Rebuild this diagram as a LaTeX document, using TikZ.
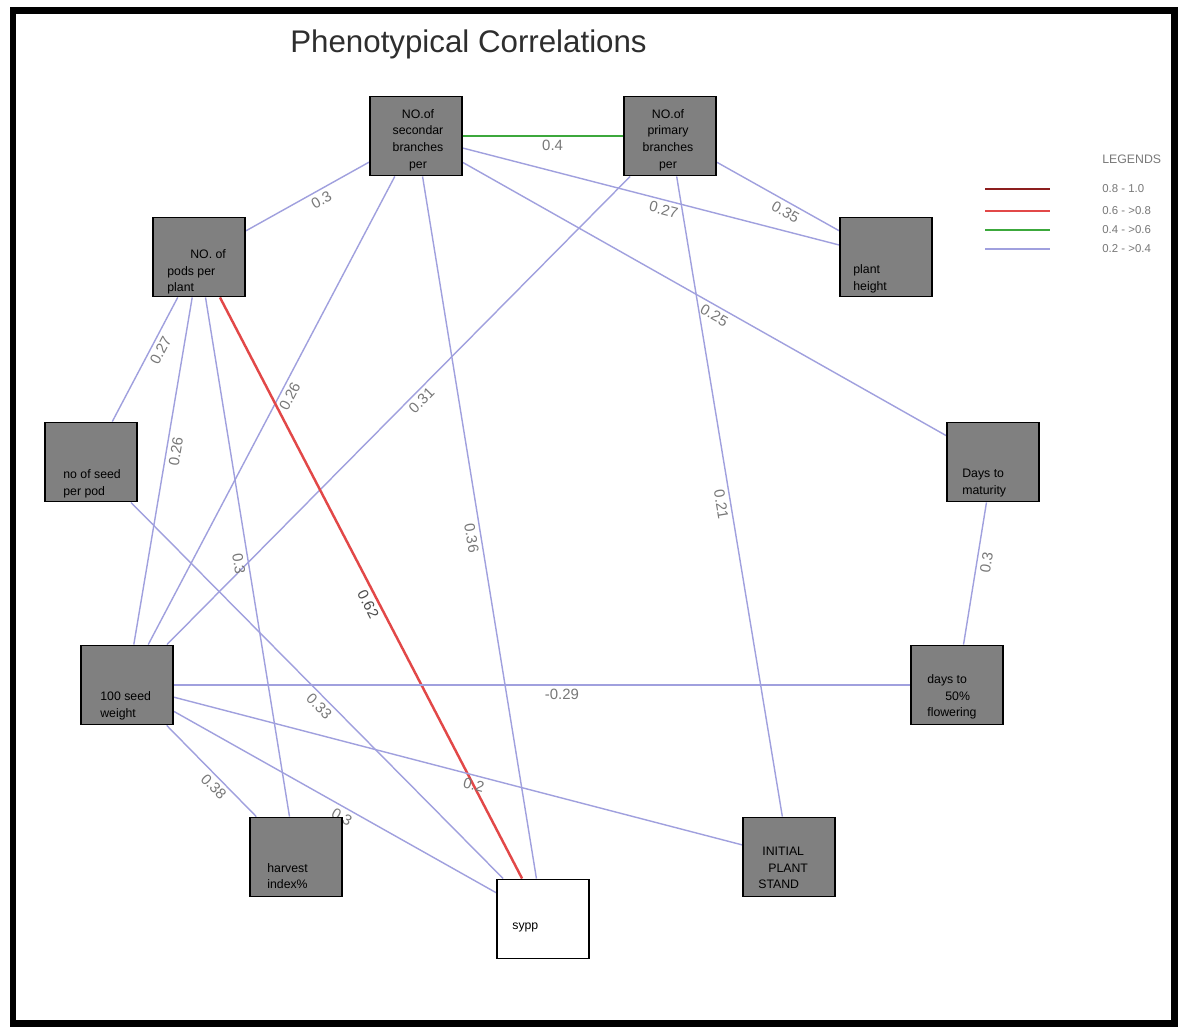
\documentclass[tikz,border=0pt]{standalone}
\usepackage{fontspec}
\setmainfont{Liberation Sans}
\usetikzlibrary{backgrounds}
\definecolor{linkblue}{RGB}{160,160,222}
\definecolor{linkred}{RGB}{226,72,72}
\definecolor{linkgreen}{RGB}{60,168,60}
\definecolor{darkred}{RGB}{140,30,30}
\definecolor{boxgray}{RGB}{128,128,128}
\definecolor{lblgray}{RGB}{120,120,120}
\tikzset{
  trait/.style={draw=black,line width=1.1pt,fill=boxgray,minimum width=1.84cm,minimum height=1.58cm,inner sep=0pt},
  traittxt/.style={font=\fontsize{7}{9.5}\selectfont,inner sep=0pt,align=left,anchor=west},
  weak/.style={draw=linkblue,line width=0.8pt},
  good/.style={draw=linkgreen,line width=0.9pt},
  strong/.style={draw=linkred,line width=1.4pt},
  lbl/.style={font=\fontsize{8.5}{10}\selectfont,text=lblgray,sloped,below=1pt,inner sep=1pt}
}
\begin{document}
\begin{tikzpicture}[x=0.02cm,y=-0.02cm]
\useasboundingbox (0,0) rectangle (1178,1028);
\draw[line width=0.14cm] (13,10) rectangle (1174,1023);
\node[anchor=base west,font=\fontsize{17.8}{20}\selectfont,text=black!82,inner sep=0pt](title) at (290,52){Phenotypical Correlations};

\node[trait](sec) at (416,136){};
\node[trait](prim) at (670,136){};
\node[trait](pods) at (199,257){};
\node[trait](height) at (886,257){};
\node[trait](seedpod) at (91,462){};
\node[trait](maturity) at (993,462){};
\node[trait](sw100) at (127,685){};
\node[trait](flower) at (957,685){};
\node[trait](harvest) at (296,857){};
\node[trait](ips) at (789,857){};
\node[trait,fill=white](sypp) at (543,919){};

\node[traittxt,align=center,anchor=center](secT) at (418,140){NO.of\\secondar\\branches\\per};
\node[traittxt,align=center,anchor=center](primT) at (668,140){NO.of\\primary\\branches\\per};
\node[traittxt](podsT) at (167,272){\hspace*{0.46cm}NO. of\\pods per\\plant};
\node[traittxt](heightT) at (853,279){plant\\height};
\node[traittxt](seedpodT) at (63,484){no of seed\\per pod};
\node[traittxt](maturityT) at (962,483){Days to\\maturity};
\node[traittxt](sw100T) at (100,706){100 seed\\weight};
\node[traittxt](flowerT) at (927,697){days to\\\hspace*{0.36cm}50\%\\flowering};
\node[traittxt](harvestT) at (267,876){harvest\\index\%};
\node[traittxt](ipsT) at (758,868){\hspace*{0.08cm}INITIAL\\\hspace*{0.2cm}PLANT\\STAND};
\node[traittxt](syppT) at (512,927){sypp};

\begin{scope}[on background layer]
\fill[white] (0,0) rectangle (1178,1028);
\draw[good] (sec) -- node[lbl,pos=0.56]{0.4} (prim);
\draw[weak] (pods) -- node[lbl,pos=0.575]{0.3} (sec);
\draw[weak] (sec) -- node[lbl,pos=0.54]{0.27} (height);
\draw[weak] (prim) -- node[lbl,pos=0.6]{0.35} (height);
\draw[weak] (sec) -- node[lbl,pos=0.53]{0.25} (maturity);
\draw[weak] (prim) -- node[lbl,pos=0.51]{0.21} (ips);
\draw[weak] (sw100) -- node[lbl,pos=0.535]{0.31} (prim);
\draw[weak] (sw100) -- node[lbl,pos=0.54]{0.26} (sec);
\draw[weak] (sec) -- node[lbl,pos=0.513]{0.36} (sypp);
\draw[weak] (seedpod) -- node[lbl,pos=0.61]{0.27} (pods);
\draw[weak] (sw100) -- node[lbl,pos=0.56]{0.26} (pods);
\draw[weak] (pods) -- node[lbl,pos=0.51]{0.3} (harvest);
\draw[strong] (pods) -- node[lbl,pos=0.52,text=black!70]{0.62} (sypp);
\draw[weak] (seedpod) -- node[lbl,pos=0.524]{0.33} (sypp);
\draw[weak] (sw100) -- node[lbl,pos=0.527]{-0.29} (flower);
\draw[weak] (sw100) -- node[lbl,pos=0.532]{0.2} (ips);
\draw[weak] (sw100) -- node[lbl,pos=0.6]{0.38} (harvest);
\draw[weak] (sw100) -- node[lbl,pos=0.536]{0.3} (sypp);
\draw[weak] (flower) -- node[lbl,pos=0.59]{0.3} (maturity);
\end{scope}

\node[anchor=west,font=\fontsize{7}{8}\selectfont,text=lblgray,inner sep=0pt](legend) at (1102,159){LEGENDS};
\foreach \y/\c/\w/\t [count=\i] in {189/darkred/0.9pt/{0.8 - 1.0},211/linkred/0.9pt/{0.6 - >0.8},230/linkgreen/0.9pt/{0.4 - >0.6},249/linkblue/0.7pt/{0.2 - >0.4}}{
  \draw[\c,line width=\w] (985,\y) -- (1050,\y);
  \node[anchor=west,font=\fontsize{6.5}{8}\selectfont,text=lblgray,inner sep=0pt](leg\i) at (1102,\y){\t};
}
\end{tikzpicture}
\end{document}
